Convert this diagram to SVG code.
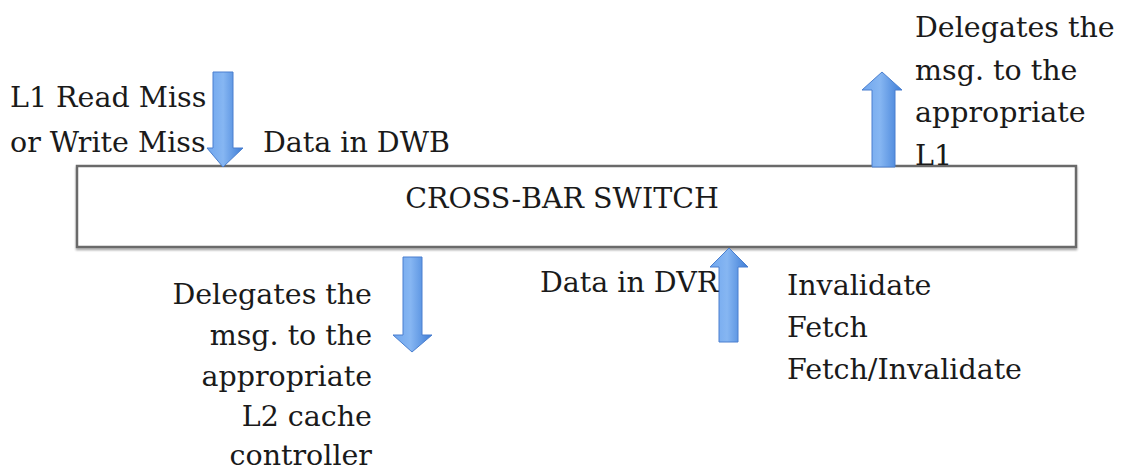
<svg xmlns="http://www.w3.org/2000/svg" width="1123" height="472" viewBox="0 0 1123 472">
<defs>
<linearGradient id="blue" x1="0" y1="0" x2="1" y2="0">
<stop offset="0" stop-color="#6fa6ee"/>
<stop offset="0.45" stop-color="#86b6f2"/>
<stop offset="1" stop-color="#3d7cd6"/>
</linearGradient>
<filter id="sh" x="-5%" y="-20%" width="110%" height="140%">
<feGaussianBlur in="SourceAlpha" stdDeviation="1.2"/>
<feOffset dx="0" dy="1.5"/>
<feComponentTransfer><feFuncA type="linear" slope="0.35"/></feComponentTransfer>
<feMerge><feMergeNode/><feMergeNode in="SourceGraphic"/></feMerge>
</filter>
</defs>
<style>
text{font-family:"DejaVu Serif","Liberation Serif",serif;font-size:28.5px;fill:#1a1a1a}
.arrow{fill:url(#blue);stroke:#4a7fcf;stroke-width:1}
.box{fill:#ffffff;stroke:#6b6b6b;stroke-width:2.5}
</style>
<rect width="1123" height="472" fill="#ffffff"/>
<g id="crossbar">
<rect class="box" x="77" y="166" width="999" height="81" filter="url(#sh)"/>
<text x="562" y="208" text-anchor="middle">CROSS-BAR SWITCH</text>
</g>
<g id="connectors">
<path class="arrow" d="M213,72 H233 V148 H243 L223,167 L207,148 H213 Z"/>
<path class="arrow" d="M872,167 V90 H862 L882,72 L902,90 H895 V167 Z"/>
<path class="arrow" d="M403,257 H422 V335 H432 L412,352 L393,335 H403 Z"/>
<path class="arrow" d="M719,342 V267 H710 L729,248 L748,267 H738 V342 Z"/>
</g>
<g id="label-miss">
<text x="10" y="107">L1 Read Miss</text>
<text x="10" y="152">or Write Miss</text>
</g>
<g id="label-dwb">
<text x="263" y="152">Data in DWB</text>
</g>
<g id="label-l1">
<text x="915" y="37">Delegates the</text>
<text x="915" y="80">msg. to the</text>
<text x="915" y="122">appropriate</text>
<text x="915" y="165">L1</text>
</g>
<g id="label-l2">
<text x="372" y="304" text-anchor="end">Delegates the</text>
<text x="372" y="345" text-anchor="end">msg. to the</text>
<text x="372" y="386" text-anchor="end">appropriate</text>
<text x="372" y="426" text-anchor="end">L2 cache</text>
<text x="372" y="465" text-anchor="end">controller</text>
</g>
<g id="label-dvr">
<text x="540" y="292">Data in DVR</text>
</g>
<g id="label-inv">
<text x="787" y="295">Invalidate</text>
<text x="787" y="337">Fetch</text>
<text x="787" y="379">Fetch/Invalidate</text>
</g>
</svg>
